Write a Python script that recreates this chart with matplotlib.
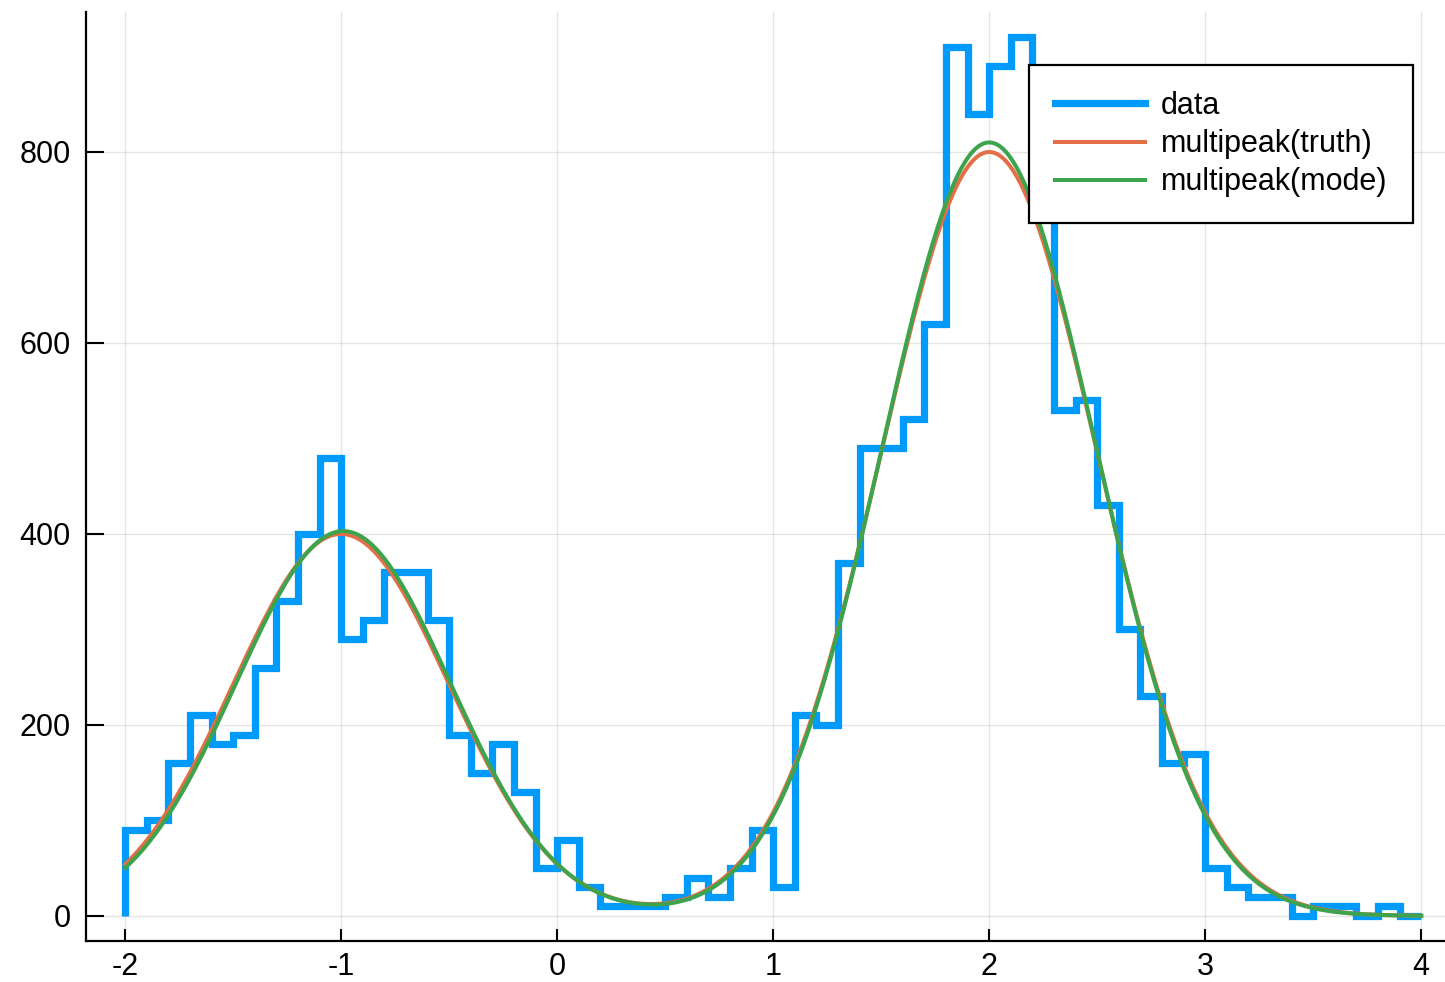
import numpy as np
import matplotlib.pyplot as plt

# ── data ────────────────────────────────────────────────────────────────────
bin_edges = np.round(np.arange(-2.0, 4.0001, 0.1), 2)
counts = [90, 100, 160, 210, 180, 190, 260, 330, 400, 480,
          290, 310, 360, 360, 310, 190, 150, 180, 130, 50,
          80, 30, 10, 10, 10, 20, 40, 20, 50, 90,
          30, 210, 200, 370, 490, 490, 520, 620, 910, 840,
          890, 920, 790, 530, 540, 430, 300, 230, 160, 170,
          50, 30, 20, 20, 0, 10, 10, 0, 10, 0]

# peak parameters: amplitude, centre, width
truth_amp = [400, 800]
truth_mu = [-1.0, 2.0]
truth_sig = [0.5, 0.5]
mode_amp = [403, 810]
mode_mu = [-0.99, 2.0]
mode_sig = [0.495, 0.495]

BLUE = "#009AFA"
ORANGE = "#E26F46"
GREEN = "#3DA44D"


def multipeak(x, amp, mu, sig):
    y = np.zeros_like(x)
    for a, m, s in zip(amp, mu, sig):
        y += a * np.exp(-(x - m) ** 2 / (2 * s ** 2))
    return y


xs = np.linspace(-2, 4, 600)

plt.rcParams["font.family"] = ["Liberation Sans", "DejaVu Sans"]
fig = plt.figure(figsize=(14.45, 9.82), dpi=100)
ax = fig.add_axes([86 / 1445, 1 - 941 / 982, (1445 - 86) / 1445, (941 - 12) / 982])

ax.stairs(counts, bin_edges, baseline=0, fill=False, color=BLUE, lw=5.2,
          label="data", zorder=3)
ax.plot(xs, multipeak(xs, truth_amp, truth_mu, truth_sig), color=ORANGE,
        lw=2.9, label="multipeak(truth)", zorder=4)
ax.plot(xs, multipeak(xs, mode_amp, mode_mu, mode_sig), color=GREEN,
        lw=2.9, label="multipeak(mode)", zorder=5)

ax.set_xlim(-2.181, 4.11)
ax.set_ylim(-26.2, 946.6)
ax.set_xticks([-2, -1, 0, 1, 2, 3, 4])
ax.set_xticklabels(["-2", "-1", "0", "1", "2", "3", "4"])
ax.set_yticks([0, 200, 400, 600, 800])

ax.grid(color="black", alpha=0.1, lw=1)
ax.set_axisbelow(True)
for s in ["top", "right"]:
    ax.spines[s].set_visible(False)
for s in ["left", "bottom"]:
    ax.spines[s].set_linewidth(1.6)
ax.tick_params(direction="in", width=1.5, labelsize=22)
ax.tick_params(axis="y", length=13, pad=11)
ax.tick_params(axis="x", length=9, pad=8)

leg = ax.legend(loc="upper right",
                bbox_to_anchor=((1413 - 86) / 1359, 1 - (65 - 12) / 929),
                fontsize=22, frameon=True, fancybox=False, framealpha=1,
                edgecolor="black", handlelength=2.95, handletextpad=0.5,
                borderpad=0.85, labelspacing=0.27, borderaxespad=0)
leg.get_frame().set_linewidth(1.6)
leg.set_zorder(10)

fig.savefig("out.png", dpi=100)
